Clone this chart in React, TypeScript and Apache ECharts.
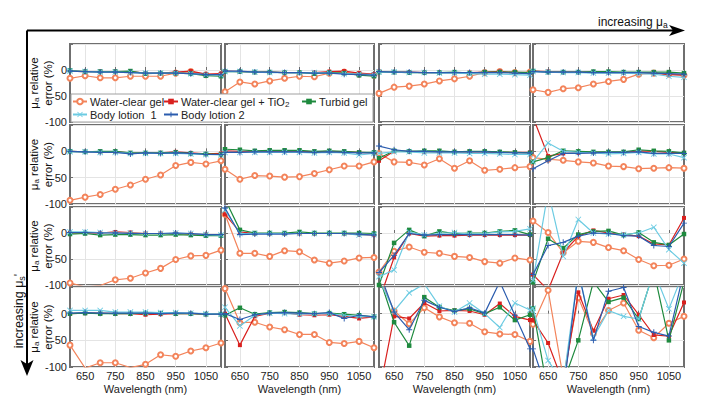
import React, { useEffect, useRef } from "react";
import * as echarts from "echarts";

const wavelengths = ["600", "650", "700", "750", "800", "850", "900", "950", "1000", "1050", "1100"];
const seriesNames = ["Water-clear gel", "Water-clear gel + TiO2", "Turbid gel", "Body lotion  1", "Body lotion 2"];
const yTicks = [-100, -50, 0, 50];

// Each array: 16 panels (row-major, 4x4), 11 values (600..1100 nm)
const waterClearGel = [
  [-16, -11, -15, -15, -12, -12, -12, -6, -3, -9, -9],
  [-42, -23, -27, -21, -16, -12, -13, -6, -4, -8, -10],
  [-45, -33, -31, -27, -21, -17, -12, -5, -3, -5, -4],
  [-38, -43, -36, -34, -27, -22, -18, -8, -6, -8, -10],
  [-93, -87, -82, -72, -64, -53, -45, -27, -21, -24, -18],
  [-34, -53, -46, -47, -49, -48, -42, -35, -28, -28, -20],
  [-4, -20, -21, -26, -14, -32, -18, -36, -34, -31, -29],
  [-12, -15, -17, -20, -22, -28, -29, -33, -32, -31, -32],
  [-96, -104, -101, -90, -87, -77, -68, -51, -44, -43, -33],
  [36, -39, -39, -45, -34, -36, -52, -58, -54, -48, -47],
  [-75, -35, -27, -37, -39, -45, -47, -55, -58, -48, -52],
  [23, 1, -38, -16, -18, -28, -34, -51, -63, -62, -50],
  [-59, -102, -92, -92, -101, -95, -77, -80, -70, -64, -55],
  [47, -17, -16, -25, -30, -39, -39, -54, -56, -52, -64],
  [70, 5, -19, 11, -6, -17, -18, -34, -38, -39, -52],
  [-20, 44, -120, 30, -37, 6, 20, -31, -45, -18, -5],
];

const waterClearGelTiO2 = [
  [-2, -3, -3, -3, -3, -6, -6, -4, -2, -8, -7],
  [-2, -3, -4, -4, -5, -5, -5, -3, -2, -6, -8],
  [-3, -4, -4, -5, -5, -5, -5, -4, -3, -5, -6],
  [-2, -3, -4, -4, -4, -5, -5, -5, -6, -9, -10],
  [0, -1, -1, -1, -3, -3, -3, -1, -3, -5, -4],
  [1, 0, 0, 0, 0, 0, -1, 0, -1, -2, -3],
  [-18, 0, 0, -1, -1, -1, -1, -1, -2, -2, -2],
  [65, -9, -4, -3, -2, -2, -2, 1, 0, -2, -3],
  [0, 0, 0, 2, 1, -1, -1, -1, -2, -3, -4],
  [36, 2, -1, -1, -1, -1, -1, -1, -1, -3, -4],
  [-130, -47, -1, -6, -5, -5, -4, -4, -4, -4, -4],
  [-80, -110, -38, -6, 5, 0, -3, -6, -21, -23, 29],
  [0, 1, 1, 0, 0, -2, -1, 0, 0, -1, -1],
  [0, -59, -5, 1, 2, -2, -3, -2, -5, -9, -6],
  [-150, -5, -9, 20, 5, 6, 5, -2, 19, -5, -12],
  [-12, -55, -130, 40, -32, 28, 35, -2, -40, -42, 21],
];

const turbidGel = [
  [-1, -3, -3, -3, -2, -7, -6, -6, -7, -11, -12],
  [-3, -3, -4, -4, -5, -5, -7, -5, -6, -10, -12],
  [-4, -4, -5, -5, -5, -4, -6, -4, -4, -4, -5],
  [-2, -4, -4, -4, -3, -3, -4, -4, -4, -4, -6],
  [0, -1, 0, 0, -3, -3, -3, -2, -4, -5, -6],
  [4, 3, 1, 2, 2, 2, 0, 1, 0, -2, -2],
  [-13, 1, 0, 1, 1, -1, 0, 0, -1, -2, -3],
  [-20, -12, 1, 0, -1, -1, -1, 3, 1, 0, -3],
  [-2, -1, -4, -3, -3, -4, -4, -3, -4, -5, -5],
  [65, 6, 0, 0, 0, 2, 0, 0, 0, 0, -1],
  [-100, -19, 6, -6, 3, -1, 0, 0, 3, 5, -3],
  [-95, -11, -29, -3, 3, 4, -4, 1, -18, -23, -2],
  [0, 1, 0, 0, 0, 1, 1, 0, 0, -1, -1],
  [-3, 11, -1, 2, 3, 2, 0, 1, -1, -3, -6],
  [70, -16, -60, 31, 12, 6, 9, 0, 12, -12, -2],
  [10, -150, -130, -50, 60, 22, 30, -10, 80, -50, 60],
];

const bodyLotion1 = [
  [-2, -3, -4, -4, -5, -6, -6, -6, -7, -9, -10],
  [-3, -3, -4, -5, -5, -6, -5, -6, -7, -8, -9],
  [-4, -4, -5, -5, -6, -6, -7, -8, -8, -9, -10],
  [-3, -4, -5, -5, -6, -6, -6, -7, -8, -12, -14],
  [-1, -1, -2, -2, -4, -4, -4, -4, -5, -6, -7],
  [-2, -2, -2, -2, -2, -2, -3, -2, -3, -7, -4],
  [-4, -1, -1, -3, -3, -3, -4, -4, -5, -6, -6],
  [-20, 16, 0, -2, -3, -5, -4, -2, -5, -5, -12],
  [2, 2, 1, 0, 0, -1, -1, 0, -1, -3, -4],
  [44, -1, -1, -1, -1, -1, -1, -1, -1, -4, -3],
  [-84, -71, 2, -4, -1, 1, -2, -1, 2, 3, 8],
  [-91, 80, -45, 26, 0, -2, -3, 0, 11, -32, -58],
  [6, 6, 6, 3, 3, 3, 2, 2, 1, 0, -1],
  [12, -23, -3, 1, 0, -1, 0, 0, -3, -5, -6],
  [65, 5, 39, 56, 14, 3, 20, 0, -26, 20, 7],
  [10, -88, -130, 80, -45, 6, -5, -10, 80, 9, 80],
];

const bodyLotion2 = [
  [-2, -3, -4, -4, -5, -6, -6, -6, -7, -9, -9],
  [-2, -2, -4, -4, -5, -5, -6, -6, -8, -9, -10],
  [-3, -4, -4, -5, -5, -5, -5, -5, -5, -6, -7],
  [-3, -4, -4, -4, -5, -5, -5, -5, -6, -7, -8],
  [0, -1, -2, -2, -5, -3, -4, -3, -4, -6, -6],
  [-2, -2, -1, -1, -1, -1, -2, -1, -2, -3, -3],
  [10, 3, 0, 0, -1, -1, -1, -1, -2, -3, -3],
  [-33, -18, -4, -4, -3, -2, -2, -1, -4, -4, -4],
  [1, 1, 0, 0, -1, -1, -1, 0, -1, -3, -3],
  [48, -3, -2, -2, -2, -1, -1, -1, -1, -2, -4],
  [-76, -43, -1, -4, -3, -3, -3, -3, -3, -3, -4],
  [-80, -24, -18, -6, 0, -1, -5, -6, -24, -26, 19],
  [1, 2, 1, 1, 1, 1, 0, 1, 1, -1, -1],
  [0, -11, -2, 1, 2, 1, 0, 2, -9, -3, -6],
  [80, 3, -30, 25, 12, 4, 11, 1, 60, -3, -66],
  [-66, -150, -150, 80, -50, 42, 49, -24, -35, -42, 80],
];

const allData = [waterClearGel, waterClearGelTiO2, turbidGel, bodyLotion1, bodyLotion2];

const colors = ["#f3845b", "#d9201e", "#1e8a3e", "#6ccbe2", "#2b5cae"];
const symbols = [
  "emptyCircle",
  "rect",
  "rect",
  "path://M1,0L5,4L9,0L10,1L6,5L10,9L9,10L5,6L1,10L0,9L4,5L0,1Z",
  "path://M4.2,0H5.8V4.2H10V5.8H5.8V10H4.2V5.8H0V4.2H4.2Z",
];
const symbolSizes = [5, 4, 4.5, 6, 6];

const colLeft = [70, 225, 379, 533];
const colWidth = [151, 149, 151, 151];
const rowTop = [44, 125, 207, 287];
const rowHeight = [78, 79, 78, 80];

const FONT = "Liberation Sans, Arial, sans-serif";

export default function App() {
  const ref = useRef<HTMLDivElement>(null);
  useEffect(() => {
    if (!ref.current) return;
    const chart = echarts.init(ref.current, undefined, { renderer: "svg" });
    const grids: any[] = [];
    const xAxes: any[] = [];
    const yAxes: any[] = [];
    const series: any[] = [];
    const oddIdx = (i: number) => i % 2 === 1;
    for (let r = 0; r < 4; r++) {
      for (let c = 0; c < 4; c++) {
        const gi = r * 4 + c;
        grids.push({
          left: colLeft[c],
          top: rowTop[r],
          width: colWidth[c],
          height: rowHeight[r],
          show: true,
          borderColor: "#6f6f6f",
          borderWidth: 2,
          backgroundColor: "#fff",
        });
        xAxes.push({
          type: "category",
          gridIndex: gi,
          data: wavelengths,
          boundaryGap: false,
          axisLine: { show: false },
          axisTick: { show: true, inside: true, length: 3, interval: oddIdx, lineStyle: { color: "#6f6f6f" } },
          axisLabel: { show: r === 3, interval: oddIdx, color: "#222", fontSize: 11, fontFamily: FONT, margin: 3 },
          splitLine: { show: true, interval: oddIdx, lineStyle: { color: "#e4e4e4", width: 1 } },
          name: r === 3 ? "Wavelength (nm)" : "",
          nameLocation: "middle",
          nameGap: 16,
          nameTextStyle: { fontSize: 11, fontFamily: FONT, color: "#222" },
        });
        yAxes.push({
          type: "value",
          gridIndex: gi,
          min: yTicks[0],
          max: yTicks[yTicks.length - 1],
          interval: 50,
          axisLine: { show: false },
          axisTick: { show: true, inside: true, length: 3, lineStyle: { color: "#6f6f6f" } },
          axisLabel: {
            show: c === 0,
            formatter: (v: number) => (v === 50 ? "" : String(v)),
            color: "#222",
            fontSize: 11,
            fontFamily: FONT,
            margin: 3,
          },
          splitLine: { show: true, lineStyle: { color: "#e4e4e4", width: 1 } },
        });
        for (let s = 0; s < 5; s++) {
          series.push({
            type: "line",
            name: seriesNames[s],
            xAxisIndex: gi,
            yAxisIndex: gi,
            data: allData[s][gi],
            symbol: symbols[s],
            symbolSize: symbolSizes[s],
            showAllSymbol: true,
            clip: true,
            lineStyle: { color: colors[s], width: 1.2 },
            itemStyle: { color: colors[s], borderColor: colors[s], borderWidth: s === 0 ? 1 : 0 },
            emphasis: { disabled: true },
            z: 2 + s,
          });
        }
      }
    }
    const legendCommon = {
      orient: "vertical",
      top: 95,
      itemGap: 0,
      itemWidth: 14,
      itemHeight: 7,
      padding: 0,
      selectedMode: false,
      z: 30,
      textStyle: {
        fontSize: 11,
        fontFamily: FONT,
        color: "#222",
        lineHeight: 13,
        padding: [0, 0, 0, -2],
        rich: {
          t: { fontSize: 11, fontFamily: FONT, color: "#222", lineHeight: 13 },
          sub: { fontSize: 8, fontFamily: FONT, color: "#222", lineHeight: 13, verticalAlign: "bottom", padding: [4, 0, 0, 0] },
        },
      },
      formatter: (name: string) =>
        name === "Water-clear gel + TiO2" ? "{t|Water-clear gel + TiO}{sub|2}" : "{t|" + name + "}",
    };
    const subRich = (size: number) => ({
      n: { fontSize: size, fontFamily: FONT, fill: "#111", lineHeight: size + 2 },
      s: { fontSize: size - 3.5, fontFamily: FONT, fill: "#111", lineHeight: size + 2, verticalAlign: "bottom", padding: [4, 0, 0, 0] },
    });
    const yNameGraphics: any[] = [];
    rowTop.forEach((t, r) => {
      const cy = t + rowHeight[r] / 2;
      yNameGraphics.push({
        type: "text",
        z: 20,
        x: 34,
        y: cy,
        rotation: Math.PI / 2,
        style: {
          text: "{n|μ}{s|a}{n| relative}",
          align: "center",
          verticalAlign: "middle",
          rich: subRich(11.5),
        },
      });
      yNameGraphics.push({
        type: "text",
        z: 20,
        x: 47.5,
        y: cy,
        rotation: Math.PI / 2,
        style: {
          text: "error (%)",
          align: "center",
          verticalAlign: "middle",
          fontSize: 11.5,
          fontFamily: FONT,
          fill: "#111",
        },
      });
    });
    const option: any = {
      animation: false,
      grid: grids,
      xAxis: xAxes,
      yAxis: yAxes,
      series,
      legend: [
        { ...legendCommon, left: 72, data: [seriesNames[0], seriesNames[3]] },
        { ...legendCommon, left: 163, data: [seriesNames[1], seriesNames[4]] },
        { ...legendCommon, left: 301, data: [seriesNames[2]] },
      ],
      graphic: [
        {
          type: "rect",
          z: 20,
          shape: { x: 71, y: 94, width: 302, height: 28 },
          style: { fill: "#fff", stroke: "#a0a0a0", lineWidth: 1 },
        },
        {
          type: "line",
          z: 20,
          shape: { x1: 27, y1: 30.5, x2: 674, y2: 30.5 },
          style: { stroke: "#000", lineWidth: 2 },
        },
        {
          type: "polygon",
          z: 20,
          shape: { points: [[685, 30.5], [669, 25], [673, 30.5], [669, 36]] },
          style: { fill: "#000" },
        },
        {
          type: "line",
          z: 20,
          shape: { x1: 27, y1: 30.5, x2: 27, y2: 364 },
          style: { stroke: "#000", lineWidth: 2 },
        },
        {
          type: "polygon",
          z: 20,
          shape: { points: [[27, 376], [20.5, 360], [27, 364], [33.5, 360]] },
          style: { fill: "#000" },
        },
        {
          type: "text",
          z: 20,
          x: 598,
          y: 22,
          style: {
            text: "{n|increasing μ}{s|a}",
            align: "left",
            verticalAlign: "middle",
            rich: subRich(12),
          },
        },
        {
          type: "text",
          z: 20,
          x: 19,
          y: 311,
          rotation: Math.PI / 2,
          style: {
            text: "{n|increasing μ}{s|s}{n|'}",
            align: "center",
            verticalAlign: "middle",
            rich: subRich(12.5),
          },
        },
        ...yNameGraphics,
      ],
    };
    chart.setOption(option);
    return () => chart.dispose();
  }, []);
  return <div ref={ref} style={{ position: "fixed", left: 0, top: 0, width: 713, height: 401, background: "#fff" }} />;
}
